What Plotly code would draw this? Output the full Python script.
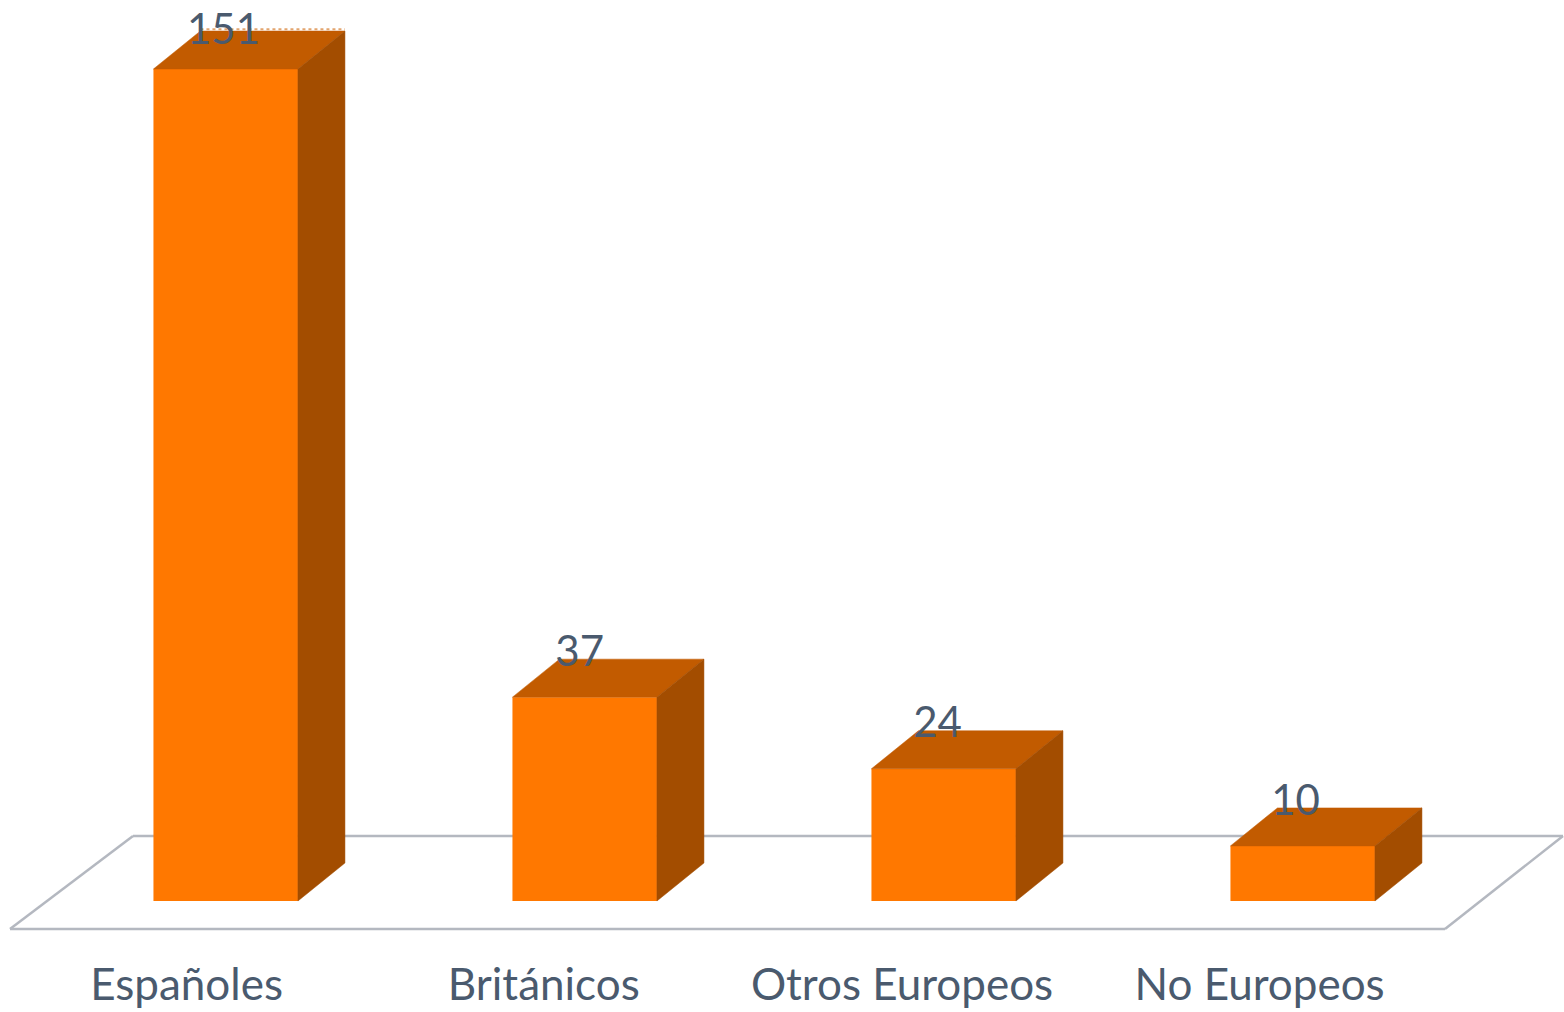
import plotly.graph_objects as go

categories = ["Españoles", "Británicos", "Otros Europeos", "No Europeos"]
values = [151, 37, 24, 10]
label_text = ["151", "37", "24", "10"]

FRONT = "#FF7800"
TOP = "#C25B00"
SIDE = "#A34D00"
TEXT = "#4A5A6E"
FLOOR = "#B4B8C0"

W, H, B = 1564, 1012, 57
UX = 359.0          # pixels per category
UY = 5.51           # pixels per value unit
X0 = 225.7          # pixel of first category centre
Y0 = 901.0          # pixel of value 0
BAR = 144.5 / UX
DX, DY = 47 / UX, 38 / UY   # depth of the 3D extrusion, in axis units
HALF = BAR / 2

# Placement nudges (axis units), kept apart from the data
tick_shift = [-0.109, -0.114, -0.116, -0.12]
label_dx = [-0.006, -0.014, -0.017, -0.02]
label_dy = [6.5, 7.6, 7.6, 7.6]

xr = [(0 - X0) / UX, (W - X0) / UX]
yr = [(Y0 - (H - B)) / UY, Y0 / UY]

xs = list(range(len(categories)))
fig = go.Figure()

# Front faces
fig.add_trace(go.Bar(x=xs, y=values, width=BAR, marker=dict(color=FRONT, line_width=0),
                     showlegend=False, hoverinfo="skip"))

# Top and side faces, derived from the values
for x, v in zip(xs, values):
    l, r = x - HALF, x + HALF
    fig.add_trace(go.Scatter(x=[l, r, r + DX, l + DX, l], y=[v, v, v + DY, v + DY, v],
                             mode="lines", fill="toself", fillcolor=TOP, line=dict(width=0.5, color=TOP),
                             showlegend=False, hoverinfo="skip"))
    fig.add_trace(go.Scatter(x=[r, r + DX, r + DX, r, r], y=[0, DY, v + DY, v, 0],
                             mode="lines", fill="toself", fillcolor=SIDE, line=dict(width=0.5, color=SIDE),
                             showlegend=False, hoverinfo="skip"))

# Dotted upper edge seen on the tallest bar only
l0, r0 = xs[0] - HALF, xs[0] + HALF
fig.add_trace(go.Scatter(x=[l0 + DX, r0 + DX], y=[values[0] + DY + 0.3] * 2, mode="lines",
                         line=dict(color="#E3A56F", width=2, dash="dot"),
                         showlegend=False, hoverinfo="skip"))

# Data labels
fig.add_trace(go.Scatter(x=[x + d for x, d in zip(xs, label_dx)],
                         y=[v + d for v, d in zip(values, label_dy)], mode="text",
                         text=label_text, textposition="middle center", cliponaxis=False,
                         textfont=dict(family="Lato", size=42, color=TEXT),
                         showlegend=False, hoverinfo="skip"))

# Floor pane outline, drawn behind the bars
def px(p): return (p - X0) / UX
def py(p): return (Y0 - p) / UY
floor = [(10, 929), (1445, 929), (1563, 836), (133, 836), (10, 929)]
shapes = [dict(type="line", layer="below", xref="x", yref="y",
               x0=px(a[0]), y0=py(a[1]), x1=px(b[0]), y1=py(b[1]),
               line=dict(color=FLOOR, width=2.5))
          for a, b in zip(floor, floor[1:])]

fig.update_layout(
    width=W, height=H, margin=dict(l=0, r=0, t=0, b=B, autoexpand=False),
    paper_bgcolor="white", plot_bgcolor="white", shapes=shapes, showlegend=False,
    xaxis=dict(range=xr, tickmode="array", tickvals=[x + d for x, d in zip(xs, tick_shift)],
               ticktext=categories, showgrid=False, zeroline=False, showline=False, ticks="",
               tickfont=dict(family="Lato", size=44, color=TEXT), fixedrange=True),
    yaxis=dict(range=yr, visible=False, showgrid=False, zeroline=False, fixedrange=True),
)
fig.write_html("out.html", config=dict(displayModeBar=False),
               post_script="document.body.style.margin='0';document.body.style.overflow='hidden';")
